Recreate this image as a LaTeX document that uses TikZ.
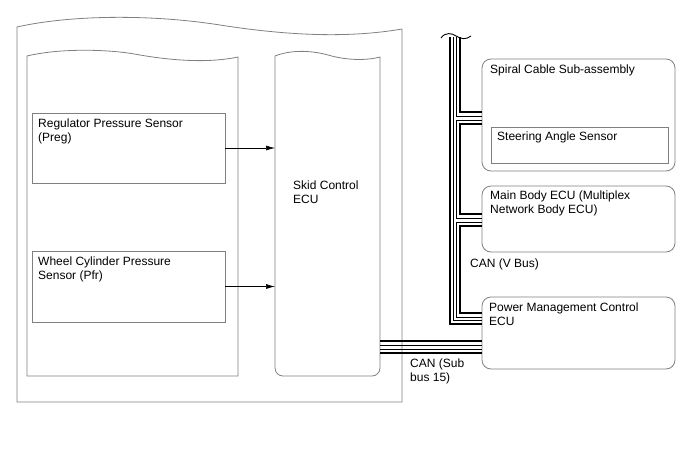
\documentclass[tikz,border=0pt]{standalone}
\usepackage{fontspec}
\setmainfont{Liberation Sans}
\usetikzlibrary{arrows.meta,calc}
\begin{document}
\begin{tikzpicture}[x=1pt,y=-1pt,
  frame/.style={draw=black!50, line width=0.8pt},
  box/.style={frame, anchor=north west, inner sep=0pt, outer sep=0pt},
  rbox/.style={box, rounded corners=9pt},
  txt/.style={anchor=north west, inner sep=0pt, align=left, font=\fontsize{12}{14}\selectfont},
  sig/.style={draw=black, line width=0.6pt, -{Latex[length=9pt,width=5pt]}},
  bthick/.style={draw=black, line width=2.5pt},
  bthin/.style={draw=black, line width=0.9pt},
]
\useasboundingbox (0,0) rectangle (688,463);

% outer frame
\draw[frame] (17,402) -- (17,27) .. controls (70,15) and (150,14) .. (220,25)
  .. controls (290,36) and (350,38) .. (402,29) -- (402,402) -- cycle;
% inner left frame
\draw[frame] (27,376) -- (27,56) .. controls (60,48) and (110,49) .. (140,55)
  .. controls (175,61) and (210,63) .. (238,57) -- (238,376) -- cycle;
% skid control ECU
\draw[frame] (380,57) .. controls (365,61) and (345,60) .. (328,55)
  .. controls (310,50) and (290,50) .. (275,56) -- (275,368)
  .. controls (275,372.4) and (278.6,376) .. (283,376) -- (372,376)
  .. controls (376.4,376) and (380,372.4) .. (380,368) -- cycle;
\coordinate (skidL) at (275,200);
\coordinate (skidR) at (380,347);
\node[txt] (skidT) at (293,181) {Skid Control\\ECU};

% sensors
\node[box, minimum width=193pt, minimum height=70pt] (reg) at (32,113) {};
\node[txt] (regT) at ($(reg.north west)+(6,6)$) {Regulator Pressure Sensor\\(Preg)};
\node[box, minimum width=193pt, minimum height=71pt] (wheel) at (32,251) {};
\node[txt] (wheelT) at ($(wheel.north west)+(6,6)$) {Wheel Cylinder Pressure\\Sensor (Pfr)};

\draw[sig] (reg.east) -- (reg.east -| skidL);
\draw[sig] (wheel.east) -- (wheel.east -| skidL);

% right side ECUs
\node[rbox, minimum width=193pt, minimum height=112pt] (spiral) at (482,59) {};
\node[txt] (spiralT) at ($(spiral.north west)+(8,6)$) {Spiral Cable Sub-assembly};
\node[box, minimum width=177pt, minimum height=36pt] (steer) at (491,127) {};
\node[txt] (steerT) at ($(steer.north west)+(6,5)$) {Steering Angle Sensor};
\node[rbox, minimum width=193pt, minimum height=66pt] (mainbody) at (482,186) {};
\node[txt] (mainT) at ($(mainbody.north west)+(8,5)$) {Main Body ECU (Multiplex\\Network Body ECU)};
\node[rbox, minimum width=193pt, minimum height=72pt] (pm) at (482,297) {};
\node[txt] (pmT) at ($(pm.north west)+(7,6)$) {Power Management Control\\ECU};

% CAN V bus
\coordinate (busT) at (455,37);
\draw[bthin] (441,38) .. controls (445,32) and (452,33) .. (456,36)
  .. controls (461,39) and (466,40) .. (471,36);
\draw[bthick] ($(busT)+(5,0)$) |- ($(spiral.west)+(0,-3)$);
\draw[bthin] ($(busT)+(1.5,0)$) |- ($(spiral.west)+(0,1)$);
\draw[bthin] ($(spiral.west)+(0,5)$) -- ++(-25.5,0) |- ($(mainbody.west)+(0,-1)$);
\draw[bthick] ($(spiral.west)+(0,9)$) -- ++(-22,0) |- ($(mainbody.west)+(0,-5)$);
\draw[bthin] ($(mainbody.west)+(0,3)$) -- ++(-25.5,0) |- ($(pm.west)+(0,-16)$);
\draw[bthick] ($(mainbody.west)+(0,7)$) -- ++(-22,0) |- ($(pm.west)+(0,-20)$);
\draw[bthin] ($(busT)+(-1.5,0)$) |- ($(pm.west)+(0,-12.5)$);
\draw[bthick] ($(busT)+(-5,0)$) |- ($(pm.west)+(0,-9)$);
\node[txt] (vbusT) at (470,259) {CAN (V Bus)};

% CAN sub bus 15
\draw[bthick] ($(skidR)+(0,-6)$) -- ($(pm.west)+(0,8)$);
\draw[bthin] ($(skidR)+(0,-2)$) -- ($(pm.west)+(0,12)$);
\draw[bthin] ($(skidR)+(0,2)$) -- ($(pm.west)+(0,16)$);
\draw[bthick] ($(skidR)+(0,6)$) -- ($(pm.west)+(0,20)$);
\node[txt] (subT) at (410,359) {CAN (Sub\\bus 15)};
\end{tikzpicture}
\end{document}
